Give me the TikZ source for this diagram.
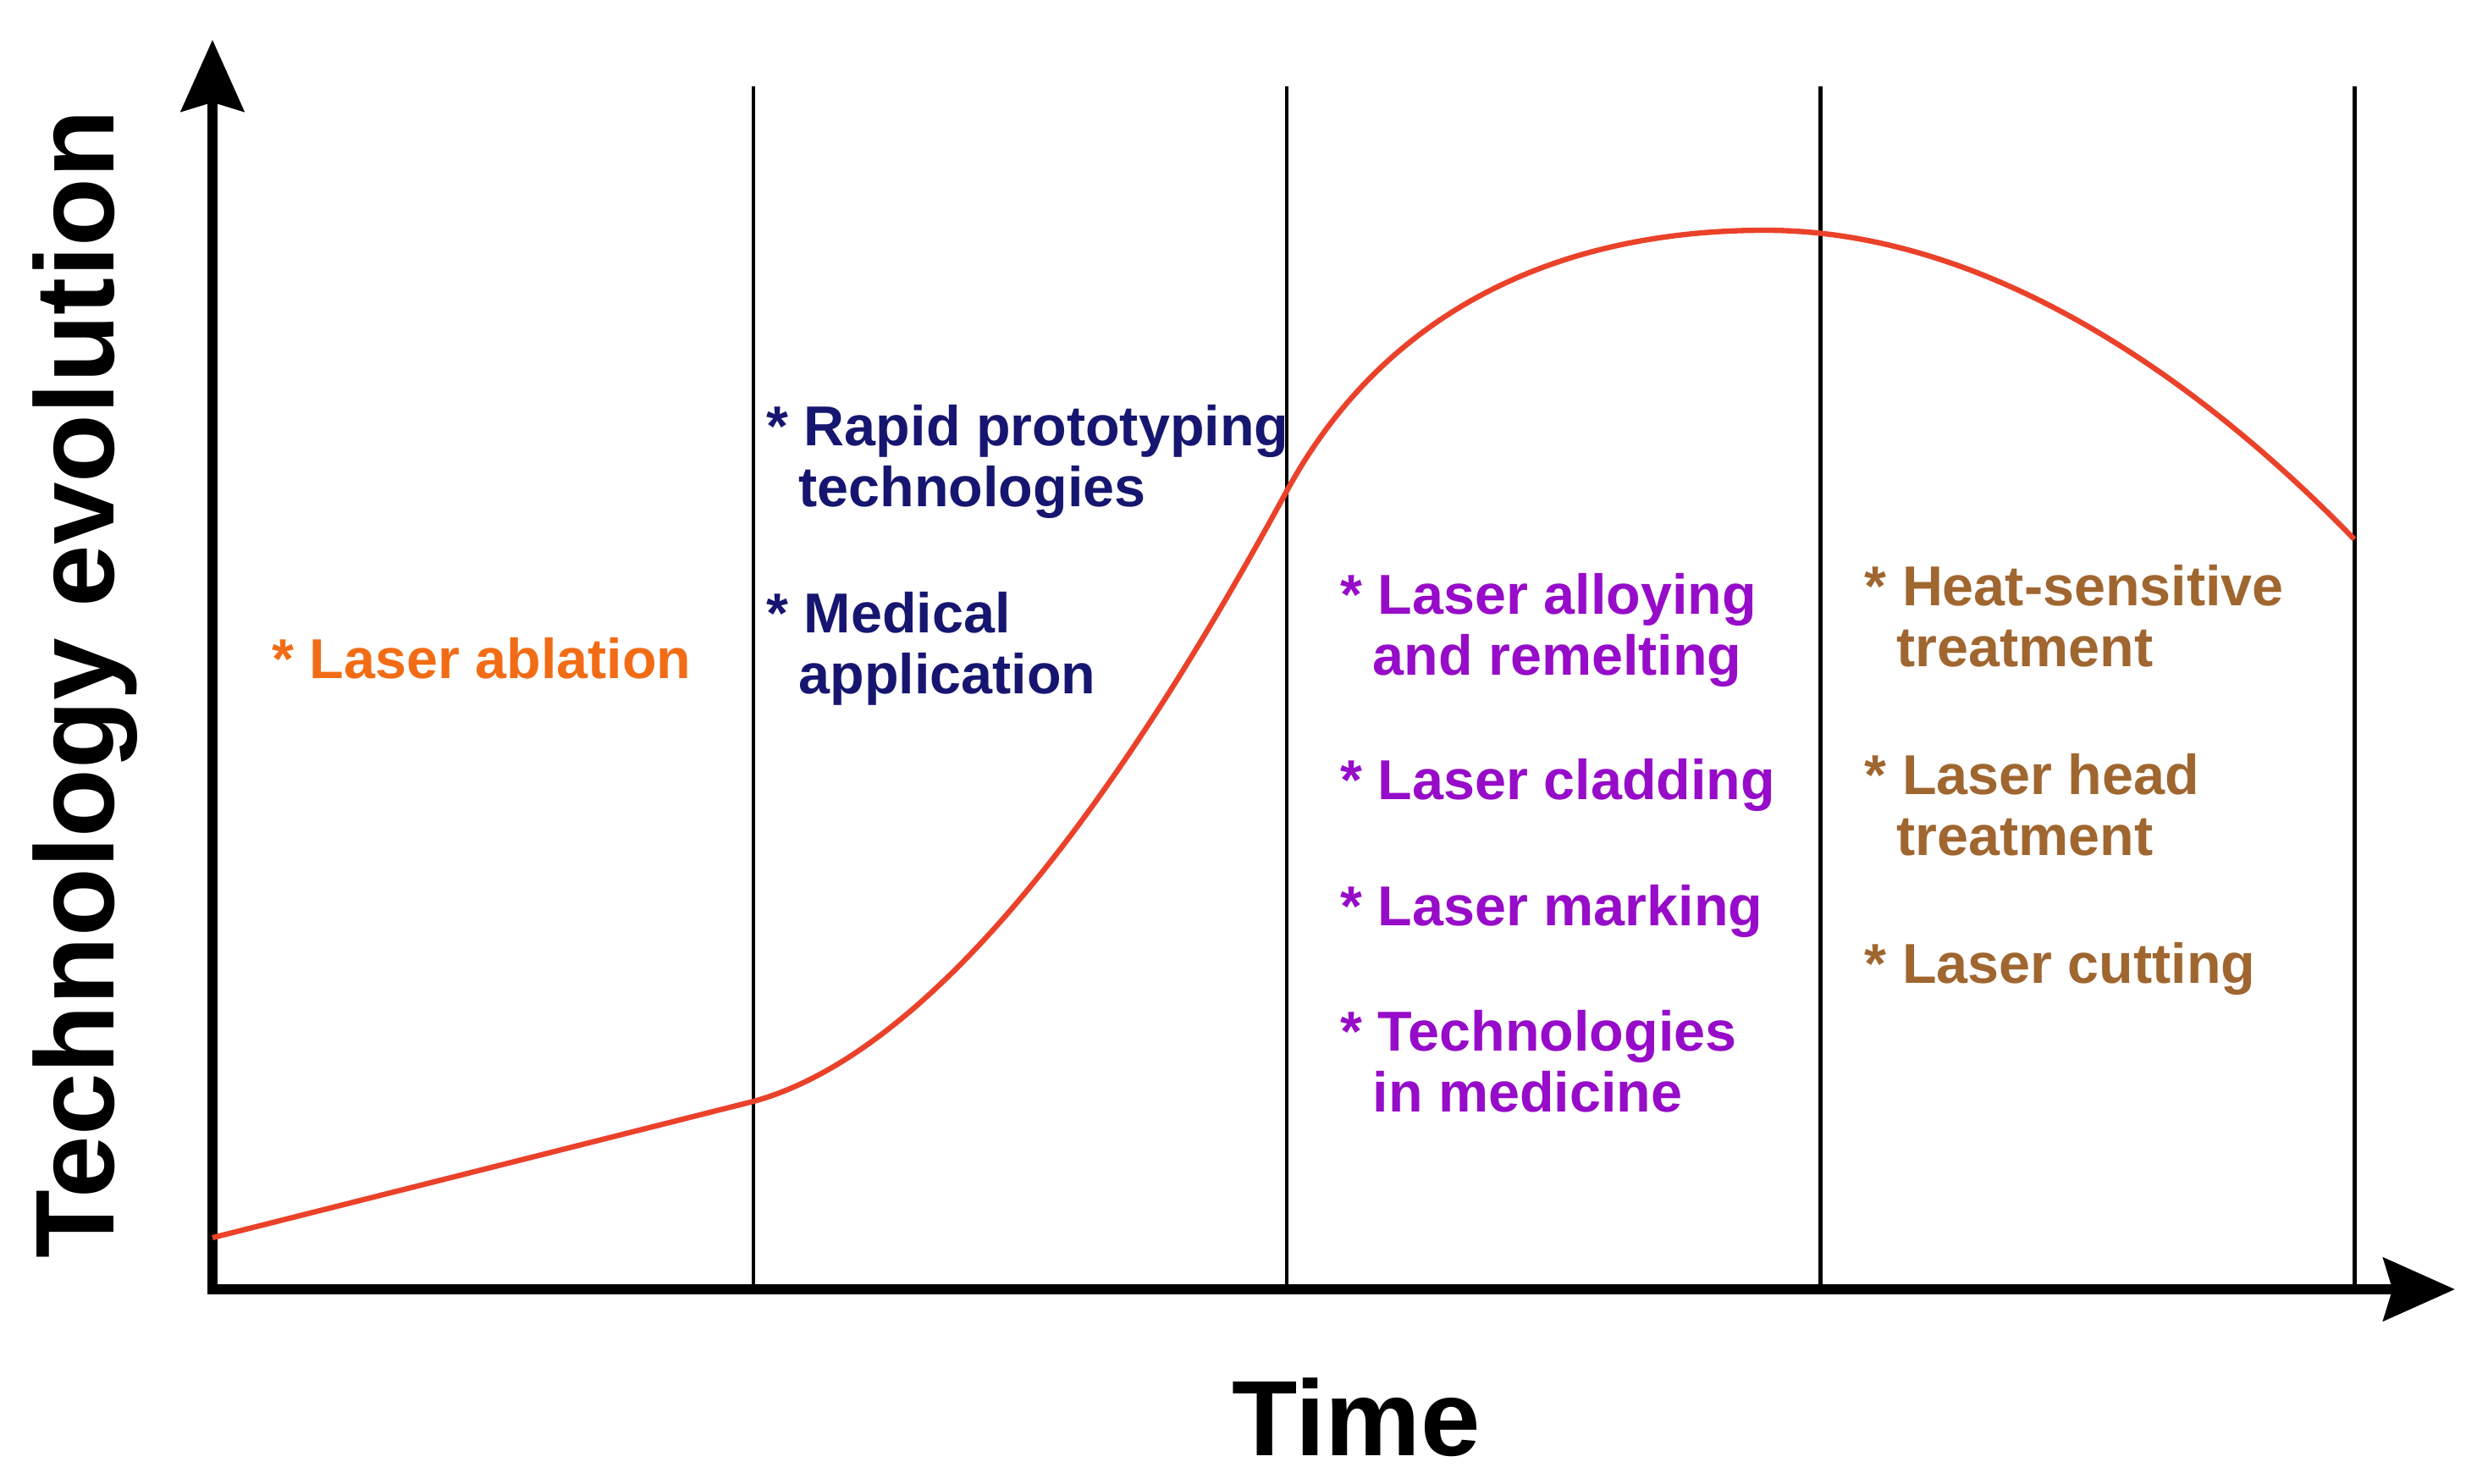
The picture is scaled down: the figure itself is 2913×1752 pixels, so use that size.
\documentclass[tikz,border=0pt]{standalone}
\usepackage{fontspec}
\setmainfont{Liberation Sans}
\usetikzlibrary{arrows.meta}
\definecolor{cOrange}{RGB}{242,108,22}
\definecolor{cNavy}{RGB}{22,22,112}
\definecolor{cPurple}{RGB}{150,12,200}
\definecolor{cBrown}{RGB}{160,102,48}
\definecolor{cRed}{RGB}{234,66,42}
\newcommand\itemlines[1]{\begin{tabular}[t]{@{}l@{}}#1\end{tabular}}
\newcommand\indentgap{\hspace*{0.57em}}
\begin{document}
\begin{tikzpicture}[x=0.01cm,y=-0.01cm,
  axisline/.style={line width=3.4pt,
    {Stealth[length=24pt,width=21pt,inset=3pt]}-{Stealth[length=24pt,width=21pt,inset=3pt]}},
  divider/.style={line width=1.4pt},
  curveline/.style={line width=1.8pt, draw=cRed},
  itemtext/.style={anchor=base west, inner sep=0pt,
    font=\bfseries\fontsize{18.9pt}{20.5pt}\selectfont},
  bigtext/.style={inner sep=0pt, font=\bfseries\fontsize{36pt}{40pt}\selectfont}]
\useasboundingbox (0,0) rectangle (2913,1752);

% axes
\coordinate (O) at (251,1523);
\coordinate (ytip) at (251,47);
\coordinate (xtip) at (2900,1523);

% dividers
\foreach \i/\x in {1/890,2/1520,3/2150,4/2781}{
  \coordinate (v\i t) at (\x,102);
  \coordinate (v\i b) at (\x,1523);
  \draw[divider] (v\i t) -- (v\i b);
}
\draw[axisline] (ytip) -- (O) -- (xtip);

% curve
\coordinate (c0) at (251,1462);
\coordinate (c1) at (890,1301);
\coordinate (c2) at (1520,580);
\coordinate (c3) at (2085,272);
\coordinate (c4) at (2781,637);
\draw[curveline] (c0) -- (c1)
  .. controls (1150,1230) and (1400,800) .. (c2)
  .. controls (1640,360) and (1850,272) .. (c3)
  .. controls (2350,272) and (2600,450) .. (c4);

% labels
\node[bigtext, anchor=base] (tlabel) at (1602,1719) {Time};
\node[bigtext, anchor=base, rotate=90, font=\bfseries\fontsize{37.6pt}{40pt}\selectfont] (ylabel) at (134,808) {Technology evolution};

% phase 1
\node[itemtext, text=cOrange] (p1a) at (321,801) {* Laser ablation};

% phase 2
\node[itemtext, text=cNavy] (p2a) at (905,526) {\itemlines{* Rapid prototyping\\ \indentgap technologies}};
\node[itemtext, text=cNavy] (p2b) at (905,747) {\itemlines{* Medical\\ \indentgap application}};

% phase 3
\node[itemtext, text=cPurple] (p3a) at (1583,725) {\itemlines{* Laser alloying\\ \indentgap and remelting}};
\node[itemtext, text=cPurple] (p3b) at (1583,944) {* Laser cladding};
\node[itemtext, text=cPurple] (p3c) at (1583,1093) {* Laser marking};
\node[itemtext, text=cPurple] (p3d) at (1583,1241) {\itemlines{* Technologies\\ \indentgap in medicine}};

% phase 4
\node[itemtext, text=cBrown] (p4a) at (2202,715) {\itemlines{* Heat-sensitive\\ \indentgap treatment}};
\node[itemtext, text=cBrown] (p4b) at (2202,938) {\itemlines{* Laser head\\ \indentgap treatment}};
\node[itemtext, text=cBrown] (p4c) at (2202,1161) {* Laser cutting};
\end{tikzpicture}
\end{document}
